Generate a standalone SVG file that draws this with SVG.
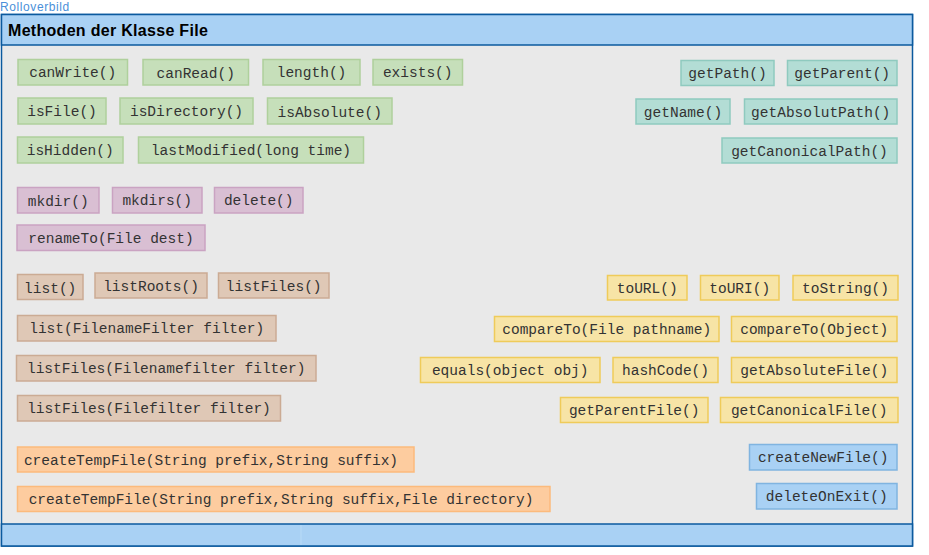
<svg xmlns="http://www.w3.org/2000/svg" width="929" height="555" viewBox="0 0 929 555">
<style>
.t{font-family:"Liberation Mono","Courier New",monospace;font-size:14.5px;fill:#333;text-anchor:middle}
.b{stroke-width:1.5}
.g{fill:#c6dfba;stroke:#afd09c}
.c{fill:#b3ddd5;stroke:#8fcabf}
.p{fill:#d9bfd3;stroke:#caa3c2}
.n{fill:#dfc8b6;stroke:#cbab94}
.y{fill:#f7e4a6;stroke:#efcb5a}
.o{fill:#fdcc9f;stroke:#fcba7c}
.l{fill:#a9d1f4;stroke:#80b4e0}
</style>
<rect x="0" y="0" width="929" height="555" fill="#ffffff"/>
<text x="0" y="11.2" font-family="Liberation Sans, Arial, sans-serif" font-size="12" letter-spacing="0.6" fill="#4a90d9">Rolloverbild</text>
<g id="frame">
<rect x="1.5" y="14.5" width="911" height="531.5" fill="#e9e9e9" stroke="#0b5a9e" stroke-width="1.5"/>
<rect x="1.5" y="14.5" width="911" height="30.5" fill="#a9d1f4" stroke="#0b5a9e" stroke-width="1.5"/>
<rect x="1.5" y="524" width="911" height="22" fill="#a9d1f4" stroke="#0b5a9e" stroke-width="1.5"/>
<line x1="301" y1="525" x2="301" y2="545" stroke="#b8dbf7" stroke-width="1"/>
<text x="8" y="35.5" font-family="Liberation Sans, Arial, sans-serif" font-size="16" letter-spacing="0.3" font-weight="bold" fill="#000">Methoden der Klasse File</text>
</g>
<g id="connectors"></g>
<g id="n1"><rect class="b g" x="18" y="59.5" width="109.5" height="25.5"/><text class="t" x="72.7" y="77">canWrite()</text></g>
<g id="n2"><rect class="b g" x="143" y="59.5" width="105.5" height="25.5"/><text class="t" x="195.7" y="78">canRead()</text></g>
<g id="n3"><rect class="b g" x="263" y="59.5" width="97" height="25.5"/><text class="t" x="311.5" y="77">length()</text></g>
<g id="n4"><rect class="b g" x="373" y="59.5" width="89.5" height="25.5"/><text class="t" x="417.7" y="77">exists()</text></g>
<g id="n5"><rect class="b g" x="18" y="98" width="88" height="26"/><text class="t" x="62" y="116">isFile()</text></g>
<g id="n6"><rect class="b g" x="120" y="98" width="133" height="26"/><text class="t" x="186.5" y="116">isDirectory()</text></g>
<g id="n7"><rect class="b g" x="267.5" y="98" width="124.5" height="26"/><text class="t" x="329.7" y="117">isAbsolute()</text></g>
<g id="n8"><rect class="b g" x="17.5" y="137" width="105.5" height="26"/><text class="t" x="70.2" y="155">isHidden()</text></g>
<g id="n9"><rect class="b g" x="138.5" y="137" width="225" height="26"/><text class="t" x="251" y="155">lastModified(long time)</text></g>
<g id="n10"><rect class="b c" x="681" y="60.5" width="93" height="25"/><text class="t" x="727.5" y="78">getPath()</text></g>
<g id="n11"><rect class="b c" x="787.5" y="60.5" width="109.5" height="25"/><text class="t" x="842.2" y="78">getParent()</text></g>
<g id="n12"><rect class="b c" x="636" y="99" width="94" height="25"/><text class="t" x="683" y="117">getName()</text></g>
<g id="n13"><rect class="b c" x="744.5" y="99" width="152.5" height="25"/><text class="t" x="820.7" y="117">getAbsolutPath()</text></g>
<g id="n14"><rect class="b c" x="722" y="138" width="175" height="25"/><text class="t" x="809.5" y="156">getCanonicalPath()</text></g>
<g id="n15"><rect class="b p" x="17.5" y="187.5" width="81.5" height="25.5"/><text class="t" x="58.2" y="206">mkdir()</text></g>
<g id="n16"><rect class="b p" x="112.5" y="187.5" width="89.5" height="25.5"/><text class="t" x="157.2" y="205">mkdirs()</text></g>
<g id="n17"><rect class="b p" x="214.5" y="187.5" width="88.5" height="25.5"/><text class="t" x="258.7" y="205">delete()</text></g>
<g id="n18"><rect class="b p" x="17" y="225" width="188" height="25.5"/><text class="t" x="111" y="243">renameTo(File dest)</text></g>
<g id="n19"><rect class="b n" x="17.5" y="274.5" width="65.5" height="25"/><text class="t" x="50.2" y="293">list()</text></g>
<g id="n20"><rect class="b n" x="95" y="273" width="112" height="25"/><text class="t" x="151" y="291">listRoots()</text></g>
<g id="n21"><rect class="b n" x="218.5" y="273" width="110.5" height="25"/><text class="t" x="273.7" y="291">listFiles()</text></g>
<g id="n22"><rect class="b n" x="17.5" y="315.5" width="258.5" height="25.5"/><text class="t" x="146.7" y="333">list(FilenameFilter filter)</text></g>
<g id="n23"><rect class="b n" x="16.5" y="355.5" width="299.5" height="25.5"/><text class="t" x="166.2" y="373">listFiles(Filenamefilter filter)</text></g>
<g id="n24"><rect class="b n" x="17.5" y="395.5" width="263" height="25.5"/><text class="t" x="149" y="413">listFiles(Filefilter filter)</text></g>
<g id="n25"><rect class="b y" x="607.5" y="275.5" width="79.5" height="24.5"/><text class="t" x="647.2" y="293">toURL()</text></g>
<g id="n26"><rect class="b y" x="700.5" y="275.5" width="78.5" height="24.5"/><text class="t" x="739.7" y="293">toURI()</text></g>
<g id="n27"><rect class="b y" x="793" y="275.5" width="105" height="24.5"/><text class="t" x="845.5" y="293">toString()</text></g>
<g id="n28"><rect class="b y" x="494.5" y="316.5" width="224.5" height="25"/><text class="t" x="606.7" y="334">compareTo(File pathname)</text></g>
<g id="n29"><rect class="b y" x="731.5" y="316.5" width="165.5" height="25"/><text class="t" x="814.2" y="334">compareTo(Object)</text></g>
<g id="n30"><rect class="b y" x="420.5" y="357.5" width="179.5" height="25"/><text class="t" x="510.2" y="375">equals(object obj)</text></g>
<g id="n31"><rect class="b y" x="613" y="357.5" width="105" height="25"/><text class="t" x="665.5" y="375">hashCode()</text></g>
<g id="n32"><rect class="b y" x="731.5" y="357.5" width="165.5" height="25"/><text class="t" x="814.2" y="375">getAbsoluteFile()</text></g>
<g id="n33"><rect class="b y" x="560.5" y="397.5" width="147.5" height="25"/><text class="t" x="634.2" y="415">getParentFile()</text></g>
<g id="n34"><rect class="b y" x="720.5" y="397.5" width="177.5" height="25"/><text class="t" x="809.2" y="415">getCanonicalFile()</text></g>
<g id="n35"><rect class="b o" x="17.5" y="447" width="396.5" height="25"/><text class="t" x="211" y="465">createTempFile(String prefix,String suffix)</text></g>
<g id="n36"><rect class="b o" x="17.5" y="486.5" width="532.5" height="25"/><text class="t" x="281" y="504">createTempFile(String prefix,String suffix,File directory)</text></g>
<g id="n37"><rect class="b l" x="749.5" y="444.5" width="147.5" height="25.5"/><text class="t" x="823.2" y="462">createNewFile()</text></g>
<g id="n38"><rect class="b l" x="756.5" y="483.5" width="140.5" height="25.5"/><text class="t" x="826.7" y="501">deleteOnExit()</text></g>
</svg>
